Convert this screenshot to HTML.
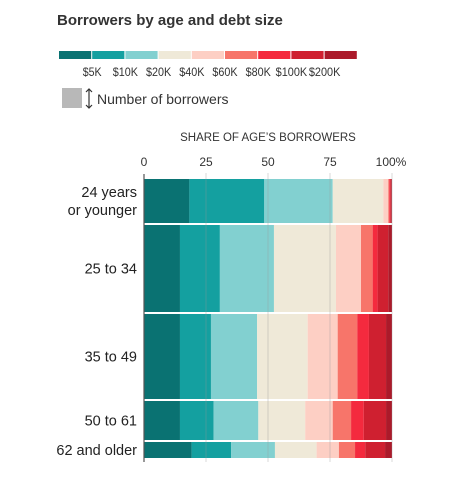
<!DOCTYPE html>
<html><head><meta charset="utf-8"><style>
body{margin:0;background:#fff;font-family:"Liberation Sans",sans-serif;color:#222}
svg text{font-family:"Liberation Sans",sans-serif}
</style></head><body>
<svg id="chart" width="472" height="475" xmlns="http://www.w3.org/2000/svg">
<text x="57" y="25" font-size="15" font-weight="bold" fill="#333">Borrowers by age and debt size</text>
<g id="legend"></g>
<rect x="62" y="88" width="20" height="20" fill="#b8b8b8"/>
<g stroke="#333" stroke-width="1.2" fill="none">
<line x1="89" y1="89" x2="89" y2="108"/><polyline points="86,92 89,89 92,92"/><polyline points="86,105 89,108 92,105"/></g>
<text x="97" y="104" font-size="14" fill="#333">Number of borrowers</text>
<text x="268" y="141" font-size="11.5" text-anchor="middle" fill="#333">SHARE OF AGE’S BORROWERS</text>
<g id="grid"></g><g id="bars"></g><g id="gridtop"></g>
</svg>
<script>
const categories=["24 years\nor younger","25 to 34","35 to 49","50 to 61","62 and older"];
const borrowers=[44,87,85,39,16];
const bins=["<$5K","$5K-10K","$10K-20K","$20K-40K","$40K-60K","$60K-80K","$80K-100K","$100K-200K",">$200K"];
const legendLabels=["$5K","$10K","$20K","$40K","$60K","$80K","$100K","$200K"];
const s0=[18.3,14.5,14.5,14.5,19.2];
const s1=[30.2,16.1,12.5,13.6,15.9];
const s2=[27.6,21.8,18.6,18.0,17.7];
const s3=[20.4,25.0,20.4,18.9,16.8];
const s4=[2.0,10.1,12.1,11.1,9.0];
const s5=[0.4,4.7,7.9,7.4,6.5];
const s6=[0.4,2.0,4.7,5.1,4.1];
const s7=[0.4,4.3,6.9,9.0,8.0];
const s8=[0.3,1.5,2.4,2.4,2.8];
const ticks=[0,25,50,75,100];
const series=[s0,s1,s2,s3,s4,s5,s6,s7,s8];
const colors=["#0a7272","#14a0a0","#82d0d0","#efe9d8","#fdcfc4","#f7756a","#f42a3e","#cf2030","#ab1a2a"];
const NS="http://www.w3.org/2000/svg";
const X0=144,X1=392,Y0=179,H=279,GAP=2;
const xs=v=>X0+(X1-X0)*v/100;
function mk(t,a,p){const e=document.createElementNS(NS,t);for(const k in a)e.setAttribute(k,a[k]);p.appendChild(e);return e;}
const lg=document.getElementById('legend');
colors.forEach((c,i)=>{const r=mk('rect',{x:59+i*33.2,y:51,width:32.2,height:8,fill:c},lg);

});
legendLabels.forEach((l,i)=>{const t=mk('text',{x:59+(i+1)*33.2,y:76,'font-size':12,'text-anchor':'middle',fill:'#333',textLength:l.length*6.3,lengthAdjust:'spacingAndGlyphs'},lg);t.textContent=l;

});
const grid=document.getElementById('grid'),gt=document.getElementById('gridtop'),bars=document.getElementById('bars');
ticks.forEach(v=>{const t=mk('text',{x:xs(v)+(v==100?-1:0),y:166,'font-size':12,'text-anchor':'middle',fill:'#333'},document.getElementById('chart'));t.textContent=v==100?'100%':v;


if(v>0){const l=mk('line',{x1:xs(v),x2:xs(v),y1:173,y2:462,stroke:'#999','stroke-opacity':0.3,'stroke-width':1.2},gt);

}});
const tot=borrowers.reduce((a,b)=>a+b,0);
const avail=H-GAP*(categories.length-1);
let y=Y0;
categories.forEach((c,i)=>{const h=avail*borrowers[i]/tot;let acc=0;
series.forEach((s,j)=>{const r=mk('rect',{x:xs(acc),y:y,width:Math.max(0,xs(acc+s[i])-xs(acc)),height:h,fill:colors[j]},bars);

acc+=s[i];});
const lines=c.split('\n');const cy=y+h/2;
lines.forEach((ln,k)=>{const t=mk('text',{x:137,y:cy+5+(k-(lines.length-1)/2)*18,'font-size':14.5,'text-anchor':'end',fill:'#222'},document.getElementById('chart'));t.textContent=ln;

});
y+=h+GAP;});
const ax=mk('line',{x1:X0,x2:X0,y1:174,y2:462,stroke:'#555','stroke-width':1.2},gt);


</script>
</body></html>
